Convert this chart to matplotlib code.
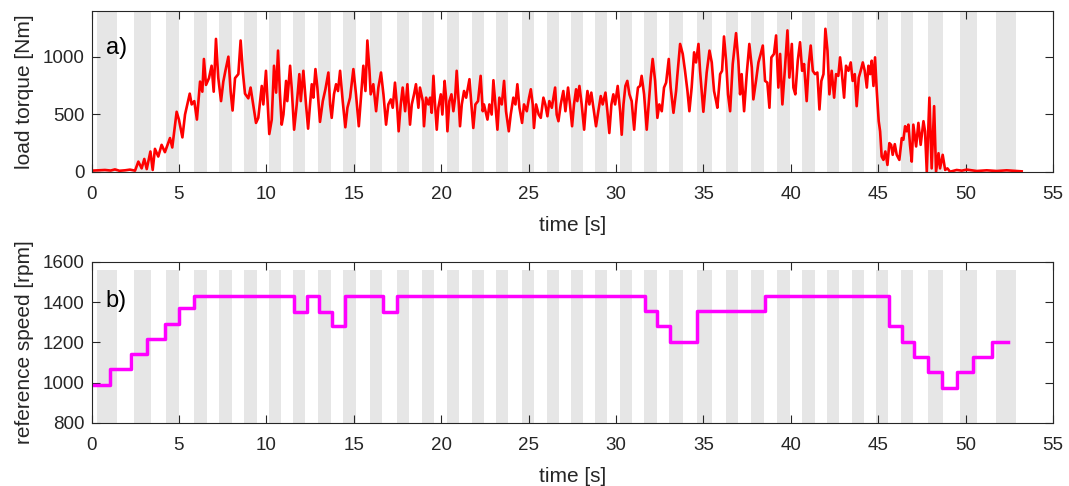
import matplotlib
matplotlib.use("Agg")
import matplotlib.pyplot as plt

plt.rcParams['font.family'] = ['Liberation Sans', 'DejaVu Sans']

# ---- gray band intervals [s]
band_start = [0.30, 2.45, 4.26, 5.86, 7.29, 8.72, 10.15, 11.54, 12.97, 14.40, 15.93, 17.46,
              18.89, 20.32, 21.75, 23.14, 24.61, 26.04, 27.40, 28.80, 30.24, 31.61, 33.04,
              34.66, 36.28, 37.75, 39.23, 40.66, 42.08, 43.51, 44.88, 46.31, 47.84, 49.68, 51.76]
band_end = [1.44, 3.39, 5.02, 6.59, 8.02, 9.45, 10.84, 12.23, 13.68, 15.11, 16.64, 18.16,
            19.61, 21.04, 22.45, 23.84, 25.33, 26.75, 28.10, 29.50, 30.92, 32.33, 33.82,
            35.48, 37.00, 38.49, 39.96, 41.39, 42.78, 44.21, 45.58, 47.01, 48.73, 50.65, 52.90]
band_top_speed = 1560

# ---- load torque [Nm]
torque_t = [0.0, 0.4, 0.77, 1.1, 1.34, 1.6, 1.92, 2.2, 2.49, 2.68, 2.87, 3.02, 3.16, 3.37, 3.50,
            3.63, 3.82, 4.01, 4.20, 4.49, 4.62, 4.87, 5.00, 5.20, 5.35, 5.62, 5.73, 5.88, 6.03,
            6.21, 6.34, 6.43, 6.55, 6.72, 6.87, 6.99, 7.12, 7.25, 7.41, 7.54, 7.66, 7.83, 7.96,
            8.07, 8.21, 8.40, 8.53, 8.66, 8.78, 8.97, 9.10,
            9.41, 9.54, 9.74, 9.83, 9.98, 10.17, 10.31, 10.44, 10.56, 10.67, 10.78, 10.88, 10.98,
            11.13, 11.20, 11.36, 11.45, 11.59, 11.74, 11.89, 11.97, 12.12, 12.27, 12.39, 12.50,
            12.60, 12.69, 12.81, 12.92, 13.07, 13.23, 13.38, 13.55, 13.65, 13.74, 13.87, 13.99,
            14.10, 14.22, 14.37, 14.52, 14.64, 14.79, 14.98, 15.13, 15.29, 15.40, 15.55, 15.67,
            15.78, 15.90, 15.97, 16.12, 16.28, 16.41, 16.56, 16.70, 16.85, 16.98, 17.12, 17.23,
            17.36, 17.50, 17.57, 17.69, 17.80, 17.94, 18.07,
            18.22, 18.32, 18.45, 18.56, 18.70, 18.79, 18.95, 19.02, 19.14, 19.27, 19.37, 19.46,
            19.56, 19.65, 19.75, 19.84, 19.98, 20.07, 20.20, 20.28, 20.36, 20.47, 20.59, 20.70,
            20.80, 20.89, 21.00, 21.08, 21.18, 21.31, 21.43, 21.62, 21.73, 21.84, 21.96, 22.11,
            22.26, 22.38, 22.45, 22.65, 22.76, 22.89, 22.99, 23.10, 23.22, 23.33, 23.47, 23.60,
            23.71, 23.87, 23.98, 24.13, 24.25, 24.36, 24.48, 24.63, 24.74, 24.90, 25.03, 25.13,
            25.24, 25.31, 25.43, 25.58, 25.70, 25.85, 25.96, 26.08, 26.19, 26.33, 26.52, 26.61,
            26.71, 26.84, 26.99, 27.11, 27.26, 27.37, 27.49, 27.60, 27.72,
            27.79, 27.91, 28.04, 28.18, 28.29, 28.37, 28.48, 28.59, 28.71, 28.86, 28.99, 29.13,
            29.24, 29.40, 29.51, 29.62, 29.74, 29.85, 29.95, 30.10, 30.24, 30.33, 30.43, 30.54,
            30.65, 30.77, 30.90, 31.04, 31.15, 31.26, 31.38, 31.47, 31.61, 31.76, 31.87, 31.99,
            32.10, 32.24, 32.37, 32.48, 32.62, 32.75, 32.87, 33.02, 33.13, 33.29, 33.44, 33.51,
            33.67, 33.82, 33.95, 34.09, 34.20, 34.33, 34.47, 34.58, 34.72, 34.81, 35.00, 35.12,
            35.19, 35.35, 35.48, 35.61, 35.73, 35.80, 35.96, 36.07, 36.18, 36.30, 36.41, 36.53,
            36.68, 36.87, 37.00, 37.10, 37.19, 37.33, 37.48, 37.63, 37.77, 37.86, 38.01, 38.15,
            38.28, 38.40, 38.53, 38.66, 38.78, 38.89, 39.04, 39.16, 39.29, 39.39, 39.52, 39.67,
            39.81, 39.92, 40.06, 40.15, 40.26, 40.40, 40.53, 40.65, 40.76, 40.91, 41.03, 41.14,
            41.26, 41.39, 41.52, 41.64, 41.75, 41.87, 41.98, 42.10, 42.21, 42.34, 42.48, 42.59,
            42.72, 42.82, 42.91, 43.05, 43.16, 43.30, 43.43, 43.54, 43.66, 43.77, 43.89, 44.00,
            44.12, 44.23, 44.35, 44.44, 44.54, 44.63, 44.73, 44.82, 44.92, 45.03, 45.11, 45.20,
            45.30, 45.41, 45.53, 45.64, 45.74, 45.83, 45.95, 46.06,
            46.21, 46.35, 46.44, 46.54, 46.63, 46.73, 46.82, 46.92, 47.01, 47.17, 47.30, 47.43,
            47.59, 47.68, 47.78, 47.93, 48.06, 48.20, 48.31, 48.45, 48.54, 48.69, 48.83, 48.96,
            49.11, 49.49, 49.78, 50.07, 50.64, 51.21, 51.78, 52.35, 52.93, 53.21]
torque = [9, 12, 15, 10, 20, 8, 12, 18, 9, 88, 29, 111, 23, 176, 15,
          199, 132, 234, 170, 293, 211, 522, 454, 299, 498, 680, 586, 615, 454,
          785, 697, 982, 756, 815, 923, 697, 1157, 820, 615, 785, 879, 1002, 697,
          533, 815, 850, 1143, 864, 680, 639, 733,
          425, 469, 747, 586, 879, 328, 454, 923, 689, 1055, 674, 410, 498,
          791, 615, 923, 733, 366, 586, 850, 615, 879, 586, 375, 586,
          762, 645, 894, 733, 434, 615, 718, 864, 586, 469, 674, 762,
          703, 879, 615, 387, 557, 645, 894, 674, 396, 615, 923, 703,
          1143, 879, 674, 762, 527, 733, 864, 674, 410, 586, 630, 557,
          776, 527, 352, 586, 733, 527, 762,
          410, 586, 674, 762, 557, 733, 615, 396, 645, 586, 645, 513,
          835, 586, 366, 557, 674, 498, 791, 645, 352, 615, 674, 527,
          645, 879, 615, 396, 586, 703, 645, 806, 586, 381, 586, 615,
          835, 527, 586, 454, 586, 498, 797, 586, 366, 645, 586, 791,
          527, 352, 498, 645, 586, 762, 557, 425, 586, 527, 645, 718,
          586, 381, 586, 498, 469, 645, 586, 483, 615, 557, 733, 498,
          440, 586, 703, 527, 733, 586, 396, 586, 718,
          615, 747, 586, 366, 586, 703, 586, 689, 557, 396, 527, 659,
          586, 689, 527, 337, 586, 674, 586, 747, 527, 322, 586, 747,
          791, 674, 615, 366, 586, 733, 747, 835, 674, 366, 586, 820,
          982, 791, 469, 586, 527, 733, 776, 982, 733, 513, 703, 835,
          1113, 1026, 879, 703, 527, 733, 1040, 952, 1113, 879, 522, 733,
          864, 1055, 952, 703, 615, 557, 850, 879, 1178, 967, 674, 527,
          938, 1207, 967, 674, 850, 527, 850, 1113, 908, 630, 791, 952,
          1026, 1099, 791, 776, 557, 996, 1026, 1187, 733, 1026, 586, 908,
          1231, 820, 1113, 733, 674, 967, 1128, 879, 938, 615, 938, 1099,
          879, 850, 864, 542, 791, 850, 1245, 1055, 674, 879, 645, 850,
          835, 996, 879, 645, 923, 879, 952, 791, 850, 571, 820, 879,
          952, 879, 733, 923, 850, 967, 747, 996, 703, 440, 352, 132,
          103, 176, 59, 249, 234, 147, 240, 147,
          103, 293, 278, 396, 352, 410, 234, 88, 410, 220, 425, 234,
          440, 352, 0, 645, 29, 571, 0, 161, 29, 147, 15, 29,
          0, 15, 9, 18, 6, 12, 6, 12, 6, 3]

# ---- reference speed [rpm]
speed_t = [0, 1.06, 2.24, 3.19, 4.20, 5.02, 5.88, 11.60, 12.31, 13.03, 13.74, 14.50, 16.66,
           17.49, 31.67, 32.37, 33.10, 34.62, 38.53, 45.64, 46.38, 47.07, 47.84, 48.64, 49.50,
           50.45, 51.50, 52.45]
speed = [988, 1067, 1143, 1218, 1293, 1372, 1430, 1352, 1430, 1352, 1280, 1430, 1352, 1430,
         1355, 1280, 1202, 1355, 1430, 1280, 1202, 1125, 1052, 975, 1052, 1125, 1202, 1202]

x_ticks = list(range(0, 56, 5))
torque_ticks = [0, 500, 1000]
speed_ticks = [800, 1000, 1200, 1400, 1600]

W, H = 1069, 486
fig = plt.figure(figsize=(W / 100, H / 100), dpi=100)
ax1 = fig.add_axes([91.5 / W, 1 - 171.7 / H, 961.5 / W, 160.7 / H])
ax2 = fig.add_axes([91.5 / W, 1 - 422.7 / H, 961.5 / W, 160.7 / H])

band_color = '#e6e6e6'
axis_color = '#262626'
tick_fs = 13.5
label_fs = 15

for s, e in zip(band_start, band_end):
    ax1.axvspan(s, e, color=band_color, lw=0, zorder=0)
ax2.bar(band_start, [band_top_speed - 800] * len(band_start),
        width=[e - s for s, e in zip(band_start, band_end)], bottom=800,
        align='edge', color=band_color, lw=0, zorder=0)

ax1.plot(torque_t, torque, color='#ff0000', lw=1.9, zorder=2)
ax2.step(speed_t, speed, where='post', color='#ff00ff', lw=2.5, zorder=2)

ax1.set_xlim(0, 55)
ax1.set_ylim(0, 1400)
ax2.set_xlim(0, 55)
ax2.set_ylim(800, 1600)
ax1.set_yticks(torque_ticks)
ax2.set_yticks(speed_ticks)

for ax in (ax1, ax2):
    ax.set_xticks(x_ticks)
    ax.tick_params(direction='in', top=True, right=True, length=6, width=0.8,
                   colors=axis_color, labelsize=tick_fs)
    ax.tick_params(axis='x', pad=10.5)
    ax.tick_params(axis='y', pad=5)
    for sp in ax.spines.values():
        sp.set_color(axis_color)
        sp.set_linewidth(0.8)
    ax.set_xlabel('time [s]', fontsize=label_fs, color=axis_color, labelpad=9)

ax1.set_ylabel('load torque [Nm]', fontsize=label_fs, color=axis_color, labelpad=6)
ax2.set_ylabel('reference speed [rpm]', fontsize=label_fs, color=axis_color, labelpad=6)

ax1.text(0.0148, 0.732, 'a)', transform=ax1.transAxes, fontsize=17, va='baseline', ha='left')
ax2.text(0.0148, 0.722, 'b)', transform=ax2.transAxes, fontsize=17, va='baseline', ha='left')

fig.savefig('out.png', dpi=100)
